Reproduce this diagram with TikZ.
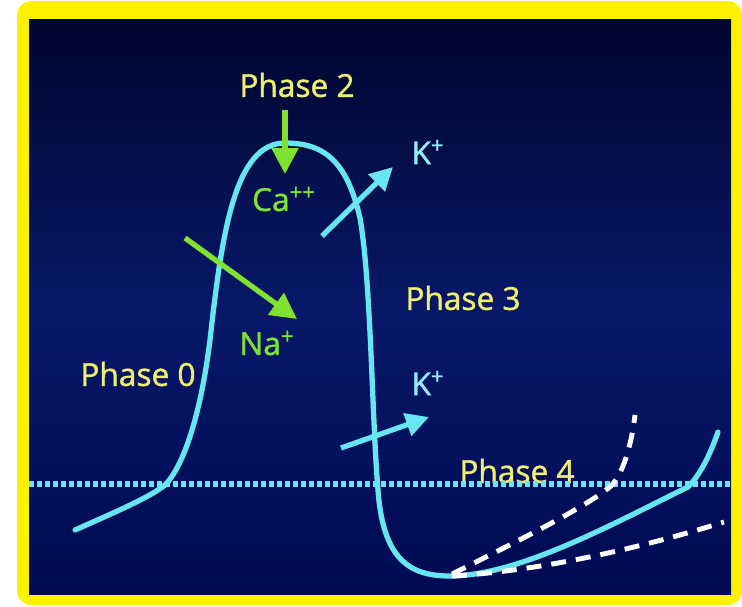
\documentclass[tikz,border=0pt]{standalone}
\usepackage{fontspec}
\setmainfont{Open Sans}[FakeBold=1.2]
\usetikzlibrary{arrows.meta}
\definecolor{aptrace}{RGB}{102,230,240}
\definecolor{iongreen}{RGB}{128,226,48}
\definecolor{phaseyellow}{RGB}{240,240,112}
\definecolor{kcyan}{RGB}{150,236,255}
\definecolor{bgtop}{RGB}{0,6,46}
\definecolor{bgmid}{RGB}{8,24,104}
\definecolor{bgbot}{RGB}{0,10,84}
\tikzset{
    phaselabel/.style={text=phaseyellow, font=\fontsize{18}{20}\selectfont, inner sep=0pt},
    ionlabel/.style={text=iongreen, font=\fontsize{18}{20}\selectfont, inner sep=0pt},
    klabel/.style={text=kcyan, font=\fontsize{18}{20}\selectfont, inner sep=0pt},
    trace/.style={draw=aptrace, line width=3pt, line cap=round},
    ionarrow/.style={-{Triangle[length=0.52cm, width=0.52cm]}, line width=3pt, draw=iongreen, fill=iongreen},
    karrow/.style={-{Triangle[length=0.46cm, width=0.46cm]}, line width=3pt, draw=aptrace, fill=aptrace},
    threshold/.style={draw=aptrace, line width=3.2pt, dash pattern=on 0.1cm off 0.06cm},
    slope/.style={draw=white, line width=2.8pt, dash pattern=on 0.3cm off 0.2cm}
}

\begin{document}
\begin{tikzpicture}[x=0.02cm, y=-0.02cm]
  % frame and background
  \useasboundingbox (0,0) rectangle (742,606);
  \fill[white] (0,0) rectangle (742,606);
  \fill[yellow, rounded corners=8pt] (17,1) rectangle (742,605);
  \shade[top color=bgtop, bottom color=bgbot, middle color=bgmid] (29,19) rectangle (731,594);

  % labels
  \node[phaselabel] (ph2) at (297,85) {Phase 2};
  \node[phaselabel] (ph3) at (463,298) {Phase 3};
  \node[phaselabel] (ph0) at (138,374) {Phase 0};
  \node[phaselabel] (ph4) at (517,471) {Phase 4};
  \node[ionlabel] (ca) at (284,199) {Ca\textsuperscript{++}};
  \node[ionlabel] (na) at (267,343) {Na\textsuperscript{+}};
  \node[klabel] (k1) at (428,152) {K\textsuperscript{+}};
  \node[klabel] (k2) at (428,383) {K\textsuperscript{+}};

  % threshold
  \coordinate (thl) at (29,484);
  \coordinate (thr) at (731,484);
  \draw[threshold] (thl) -- (thr);

  % action potential
  \coordinate (rest) at (75,530);
  \coordinate (knee) at (165,485);
  \coordinate (up) at (210,340);
  \coordinate (peak) at (285,143);
  \coordinate (down) at (360,218);
  \coordinate (fall) at (378,490);
  \coordinate (low) at (450,576);
  \coordinate (thx) at (688,487);
  \coordinate (fire) at (718,432);
  \draw[trace] (rest) .. controls (120,510) and (150,497) .. (knee)
    .. controls (182,468) and (200,420) .. (up)
    .. controls (222,232) and (235,143) .. (peak)
    .. controls (325,143) and (347,162) .. (down)
    .. controls (371,280) and (372,420) .. (fall)
    .. controls (383,560) and (410,576) .. (low)
    .. controls (520,576) and (620,520) .. (thx)
    .. controls (700,475) and (710,455) .. (fire);

  % phase 4 slopes
  \coordinate (s1) at (452,574);
  \coordinate (s1m) at (612,485);
  \coordinate (s1e) at (635,415);
  \coordinate (s2) at (452,576);
  \coordinate (s2e) at (724,522);
  \draw[slope] (s1) .. controls (520,540) and (590,505) .. (s1m)
    .. controls (625,470) and (632,440) .. (s1e);
  \draw[slope] (s2) .. controls (550,570) and (650,545) .. (s2e);

  % ion currents
  \coordinate (a2s) at (285,110);
  \coordinate (a2e) at (285,174);
  \coordinate (ans) at (185,238);
  \coordinate (ane) at (297,319);
  \coordinate (k1s) at (322,236);
  \coordinate (k1e) at (393,167);
  \coordinate (k2s) at (341,448);
  \coordinate (k2e) at (429,417);
  \draw[ionarrow] (a2s) -- (a2e);
  \draw[ionarrow] (ans) -- (ane);
  \draw[karrow] (k1s) -- (k1e);
  \draw[karrow] (k2s) -- (k2e);
\end{tikzpicture}
\end{document}
